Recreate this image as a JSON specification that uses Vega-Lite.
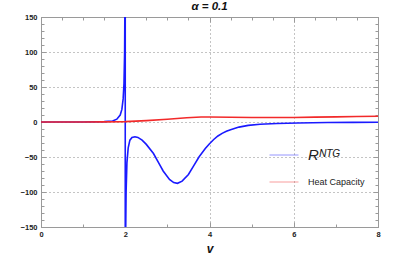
{
  "$schema": "https://vega.github.io/schema/vega-lite/v6.json",
  "autosize": {"type": "none"},
  "width": 337,
  "height": 210,
  "padding": {"left": 41, "top": 17, "right": 37, "bottom": 33},
  "background": "white",
  "config": {
    "view": {"stroke": "#9a9a9a", "strokeWidth": 1},
    "font": "Liberation Sans"
  },
  "title": {"text": "α = 0.1", "fontSize": 11.5, "fontWeight": "bold", "fontStyle": "italic", "font": "Liberation Sans", "color": "#111", "offset": 1},
  "resolve": {"scale": {"x": "independent", "y": "independent"}, "axis": {"x": "independent", "y": "independent"}},
  "data": {"values": [
    {"v": 0, "y": 0, "s": "R^NTG"},
    {"v": 1, "y": 0.1, "s": "R^NTG"},
    {"v": 1.5, "y": 0.5, "s": "R^NTG"},
    {"v": 1.7, "y": 1.5, "s": "R^NTG"},
    {"v": 1.8, "y": 4, "s": "R^NTG"},
    {"v": 1.88, "y": 10, "s": "R^NTG"},
    {"v": 1.92, "y": 18, "s": "R^NTG"},
    {"v": 1.95, "y": 33, "s": "R^NTG"},
    {"v": 1.97, "y": 55, "s": "R^NTG"},
    {"v": 1.985, "y": 100, "s": "R^NTG"},
    {"v": 1.99, "y": 150, "s": "R^NTG"},
    {"v": 1.995, "y": 300, "s": "R^NTG"},
    {"v": 1.999, "y": 1500, "s": "R^NTG"},
    {"v": 2.001, "y": -1500, "s": "R^NTG"},
    {"v": 2.005, "y": -300, "s": "R^NTG"},
    {"v": 2.01, "y": -160, "s": "R^NTG"},
    {"v": 2.02, "y": -100, "s": "R^NTG"},
    {"v": 2.04, "y": -58, "s": "R^NTG"},
    {"v": 2.07, "y": -37, "s": "R^NTG"},
    {"v": 2.11, "y": -26, "s": "R^NTG"},
    {"v": 2.16, "y": -22, "s": "R^NTG"},
    {"v": 2.23, "y": -21, "s": "R^NTG"},
    {"v": 2.3, "y": -22, "s": "R^NTG"},
    {"v": 2.4, "y": -26, "s": "R^NTG"},
    {"v": 2.5, "y": -32, "s": "R^NTG"},
    {"v": 2.67, "y": -45, "s": "R^NTG"},
    {"v": 2.8, "y": -59, "s": "R^NTG"},
    {"v": 2.9, "y": -70, "s": "R^NTG"},
    {"v": 3.05, "y": -82, "s": "R^NTG"},
    {"v": 3.15, "y": -86.5, "s": "R^NTG"},
    {"v": 3.24, "y": -87.6, "s": "R^NTG"},
    {"v": 3.35, "y": -84.5, "s": "R^NTG"},
    {"v": 3.5, "y": -75, "s": "R^NTG"},
    {"v": 3.62, "y": -63, "s": "R^NTG"},
    {"v": 3.75, "y": -50, "s": "R^NTG"},
    {"v": 3.9, "y": -38, "s": "R^NTG"},
    {"v": 4.0, "y": -31, "s": "R^NTG"},
    {"v": 4.1, "y": -25, "s": "R^NTG"},
    {"v": 4.2, "y": -20, "s": "R^NTG"},
    {"v": 4.3, "y": -16.2, "s": "R^NTG"},
    {"v": 4.4, "y": -13.3, "s": "R^NTG"},
    {"v": 4.5, "y": -11, "s": "R^NTG"},
    {"v": 4.7, "y": -7.3, "s": "R^NTG"},
    {"v": 4.92, "y": -4.8, "s": "R^NTG"},
    {"v": 5.2, "y": -3.2, "s": "R^NTG"},
    {"v": 5.6, "y": -2.1, "s": "R^NTG"},
    {"v": 6.1, "y": -1.4, "s": "R^NTG"},
    {"v": 6.8, "y": -0.8, "s": "R^NTG"},
    {"v": 7.4, "y": -0.5, "s": "R^NTG"},
    {"v": 8, "y": -0.4, "s": "R^NTG"},
    {"v": 0, "y": 0, "s": "Heat Capacity"},
    {"v": 1, "y": 0.05, "s": "Heat Capacity"},
    {"v": 1.5, "y": 0.2, "s": "Heat Capacity"},
    {"v": 2, "y": 0.5, "s": "Heat Capacity"},
    {"v": 2.5, "y": 2, "s": "Heat Capacity"},
    {"v": 3.0, "y": 4, "s": "Heat Capacity"},
    {"v": 3.46, "y": 6.1, "s": "Heat Capacity"},
    {"v": 3.8, "y": 7.1, "s": "Heat Capacity"},
    {"v": 4.0, "y": 7.1, "s": "Heat Capacity"},
    {"v": 4.5, "y": 6.8, "s": "Heat Capacity"},
    {"v": 5.0, "y": 6.5, "s": "Heat Capacity"},
    {"v": 5.5, "y": 6.4, "s": "Heat Capacity"},
    {"v": 6.0, "y": 6.5, "s": "Heat Capacity"},
    {"v": 6.5, "y": 6.9, "s": "Heat Capacity"},
    {"v": 7.0, "y": 7.3, "s": "Heat Capacity"},
    {"v": 7.5, "y": 7.8, "s": "Heat Capacity"},
    {"v": 8.0, "y": 8.3, "s": "Heat Capacity"}
  ]},
  "layer": [
    {
      "mark": {"type": "line", "strokeWidth": 1.6, "clip": true},
      "encoding": {
        "x": {
          "field": "v", "type": "quantitative",
          "scale": {"domain": [0, 8], "nice": false, "zero": false},
          "axis": {
            "orient": "bottom",
            "values": [0, 0.5, 1, 1.5, 2, 2.5, 3, 3.5, 4, 4.5, 5, 5.5, 6, 6.5, 7, 7.5, 8],
            "format": "d",
            "title": "v",
            "titleFontSize": 12, "titleFontWeight": "bold", "titleFontStyle": "italic", "titleColor": "#111", "titlePadding": 4,
            "labelExpr": "datum.value % 2 === 0 ? datum.label : ''",
            "labelFontSize": 7.5, "labelFontWeight": "bold", "labelColor": "#222", "labelPadding": 8,
            "labelFlush": false,
            "labelOverlap": false,
            "domainColor": "#9a9a9a",
            "tickColor": "#9a9a9a",
            "tickSize": {"condition": {"test": "datum.value % 2 === 0", "value": -5}, "value": -3},
            "grid": true,
            "gridDash": [1, 3],
            "gridColor": "#888",
            "gridOpacity": {"condition": {"test": "datum.value % 2 === 0 && datum.value > 0 && datum.value < 8", "value": 1}, "value": 0}
          }
        },
        "y": {
          "field": "y", "type": "quantitative",
          "scale": {"domain": [-150, 150], "nice": false, "zero": false},
          "axis": {
            "orient": "left",
            "values": [-150, -140, -130, -120, -110, -100, -90, -80, -70, -60, -50, -40, -30, -20, -10, 0, 10, 20, 30, 40, 50, 60, 70, 80, 90, 100, 110, 120, 130, 140, 150],
            "format": "d",
            "title": null,
            "labelExpr": "datum.value % 50 === 0 ? datum.label : ''",
            "labelFontSize": 7.5, "labelFontWeight": "bold", "labelColor": "#222", "labelPadding": 9,
            "labelFlush": false,
            "labelOverlap": false,
            "domainColor": "#9a9a9a",
            "tickColor": "#9a9a9a",
            "tickSize": {"condition": {"test": "datum.value % 50 === 0", "value": -5}, "value": -3},
            "grid": true,
            "gridDash": [1, 3],
            "gridColor": "#888",
            "gridOpacity": {"condition": {"test": "datum.value % 50 === 0 && abs(datum.value) < 150", "value": 1}, "value": 0}
          }
        },
        "color": {
          "field": "s", "type": "nominal",
          "scale": {"domain": ["R^NTG", "Heat Capacity"], "range": ["#1a1aff", "#f22a2a"]},
          "legend": {
            "orient": "none",
            "legendX": 228,
            "legendY": 123,
            "title": null,
            "symbolType": "stroke",
            "symbolSize": 840,
            "symbolStrokeWidth": 1,
            "symbolOpacity": 0.45,
            "labelOffset": 9,
            "rowPadding": 4,
            "labelExpr": "datum.value === 'R^NTG' ? 'Rᴺᵀᴳ' : datum.label",
            "labelFontSize": 9,
            "labelColor": "#222",
            "encode": {
              "labels": {"update": {"fontSize": {"signal": "datum.value === 'R^NTG' ? 15 : 9"}, "fontStyle": {"signal": "datum.value === 'R^NTG' ? 'italic' : 'normal'"}}}
            }
          }
        }
      }
    },
    {
      "mark": {"type": "point", "opacity": 0, "clip": true},
      "encoding": {
        "x": {
          "field": "v", "type": "quantitative",
          "scale": {"domain": [0, 8], "nice": false, "zero": false},
          "axis": {
            "orient": "top",
            "values": [0, 0.5, 1, 1.5, 2, 2.5, 3, 3.5, 4, 4.5, 5, 5.5, 6, 6.5, 7, 7.5, 8],
            "title": null,
            "labels": false,
            "grid": false,
            "domainColor": "#9a9a9a",
            "tickColor": "#9a9a9a",
            "tickSize": {"condition": {"test": "datum.value % 2 === 0", "value": -5}, "value": -3}
          }
        },
        "y": {
          "field": "y", "type": "quantitative",
          "scale": {"domain": [-150, 150], "nice": false, "zero": false},
          "axis": {
            "orient": "right",
            "values": [-150, -140, -130, -120, -110, -100, -90, -80, -70, -60, -50, -40, -30, -20, -10, 0, 10, 20, 30, 40, 50, 60, 70, 80, 90, 100, 110, 120, 130, 140, 150],
            "title": null,
            "labels": false,
            "grid": false,
            "domainColor": "#9a9a9a",
            "tickColor": "#9a9a9a",
            "tickSize": {"condition": {"test": "datum.value % 50 === 0", "value": -5}, "value": -3}
          }
        }
      }
    }
  ]
}
